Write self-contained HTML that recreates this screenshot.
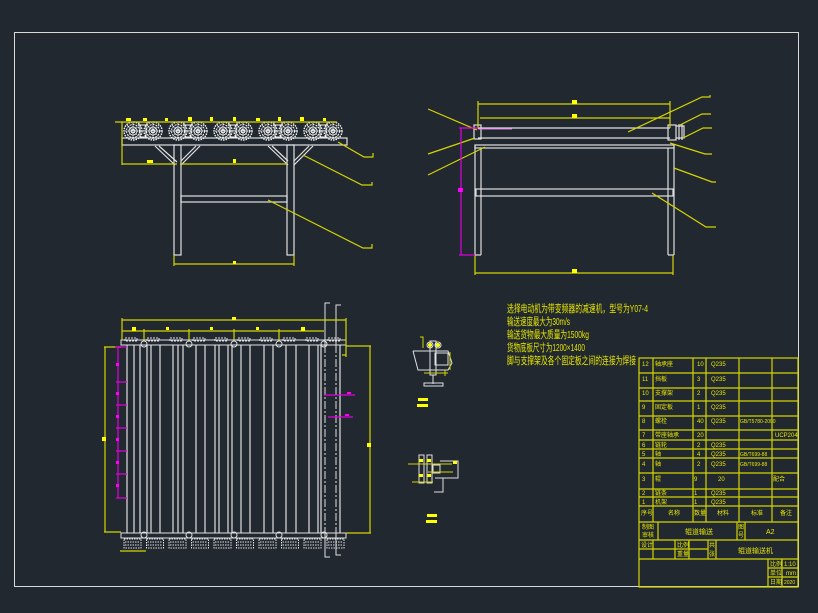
<!DOCTYPE html>
<html><head><meta charset="utf-8"><style>
html,body{margin:0;padding:0;background:#212830;}
svg{display:block}
text{font-family:"Liberation Sans","Noto Sans CJK SC",sans-serif;fill:#e6e600}
</style></head><body>
<svg width="818" height="613" viewBox="0 0 818 613" xmlns="http://www.w3.org/2000/svg">
<rect width="818" height="613" fill="#212830"/>
<rect x="14.5" y="32.5" width="784" height="554" fill="none" stroke="#d8d8d8" stroke-width="1"/>

<!-- ===== Front view (top-left) ===== -->
<g stroke="#e0e0e0" fill="none" stroke-width="1.2">
 <rect x="122" y="138" width="225" height="7"/>
 <rect x="174" y="145" width="7" height="110"/>
 <rect x="287" y="145" width="7" height="110"/>
 <rect x="181" y="196" width="106" height="6"/>
 <line x1="155" y1="146" x2="175" y2="165"/><line x1="159" y1="146" x2="177" y2="162"/>
 <line x1="200" y1="146" x2="181" y2="165"/><line x1="196" y1="146" x2="181" y2="161"/>
 <line x1="268" y1="146" x2="288" y2="165"/><line x1="272" y1="146" x2="288" y2="161"/>
 <line x1="313" y1="146" x2="294" y2="165"/><line x1="309" y1="146" x2="294" y2="161"/>
</g>
<g stroke="#f4f4f4" fill="none" stroke-width="1">
 <g id="rp">
  <circle cx="133" cy="131" r="9" stroke-dasharray="1.5 1" stroke-width="1.4"/><circle cx="133" cy="131" r="6.5" stroke-dasharray="2 1"/><circle cx="133" cy="131" r="4"/><circle cx="133" cy="131" r="1.5"/>
  <path d="M125 131h16M133 123v16M127 125l12 12M139 125l-12 12" stroke-dasharray="1 1.5"/>
  <circle cx="153" cy="131" r="9" stroke-dasharray="1.5 1" stroke-width="1.4"/><circle cx="153" cy="131" r="6.5" stroke-dasharray="2 1"/><circle cx="153" cy="131" r="4"/><circle cx="153" cy="131" r="1.5"/>
  <path d="M145 131h16M153 123v16M147 125l12 12M159 125l-12 12" stroke-dasharray="1 1.5"/>
  <rect x="140" y="125" width="6" height="12"/>
  <rect x="139" y="122" width="8" height="3"/>
 </g>
 <use href="#rp" x="45"/><use href="#rp" x="90"/><use href="#rp" x="135"/><use href="#rp" x="180"/>
</g>
<g stroke="#d4d400" fill="none" stroke-width="1.2">
 <line x1="115" y1="122" x2="337" y2="122"/>
 <line x1="122" y1="122" x2="122" y2="165"/>
 <line x1="122" y1="164" x2="177" y2="164"/>
 <line x1="180" y1="164" x2="287" y2="164"/>
 <line x1="174" y1="255" x2="174" y2="266"/><line x1="294" y1="255" x2="294" y2="266"/>
 <line x1="174" y1="264" x2="294" y2="264"/>
 <polyline points="338,142 364,157 373,157 373,153"/>
 <polyline points="303,155 362,185 372,185 372,182"/>
 <polyline points="268,200 363,248 372,248 372,244"/>
</g>
<g fill="#ffff00">
 <rect x="126" y="118" width="5" height="3"/><rect x="143" y="118" width="4" height="3"/><rect x="165" y="118" width="3" height="3"/>
 <rect x="188" y="117" width="4" height="4"/><rect x="210" y="117" width="3" height="4"/><rect x="233" y="117" width="3" height="4"/>
 <rect x="256" y="118" width="4" height="3"/><rect x="278" y="117" width="3" height="4"/><rect x="300" y="117" width="4" height="4"/><rect x="323" y="118" width="3" height="3"/>
 <rect x="147" y="160" width="6" height="3"/><rect x="233" y="159" width="3" height="4"/><rect x="233" y="261" width="3" height="3"/>
</g>

<!-- ===== Side view (top-right) ===== -->
<g stroke="#e0e0e0" fill="none" stroke-width="1.2">
 <line x1="476" y1="128" x2="670" y2="128"/>
 <line x1="478" y1="138" x2="670" y2="138"/>
 <rect x="475" y="145" width="199" height="3"/>
 <line x1="475" y1="145" x2="475" y2="255"/><line x1="481" y1="148" x2="481" y2="255"/><line x1="475" y1="255" x2="481" y2="255"/>
 <line x1="668" y1="148" x2="668" y2="255"/><line x1="674" y1="145" x2="674" y2="255"/><line x1="668" y1="255" x2="674" y2="255"/>
 <rect x="476" y="189" width="197" height="7"/>
 <rect x="474" y="125" width="7" height="14"/>
 <rect x="668" y="125" width="8" height="15"/>
 <path d="M676 126 h8 v12 h-8 M679 124 v16 M682 124 v16"/>
</g>
<line x1="478" y1="129" x2="512" y2="129" stroke="#e070e0" stroke-width="1"/>
<g stroke="#d4d400" fill="none" stroke-width="1.2">
 <line x1="478" y1="104" x2="670" y2="104"/><line x1="478" y1="101" x2="478" y2="128"/><line x1="670" y1="101" x2="670" y2="128"/>
 <line x1="480" y1="118" x2="670" y2="118"/>
 <line x1="475" y1="255" x2="475" y2="275"/><line x1="673" y1="255" x2="673" y2="275"/>
 <line x1="475" y1="273" x2="673" y2="273"/>
 <line x1="428" y1="109" x2="477" y2="130"/>
 <line x1="428" y1="154" x2="475" y2="138"/>
 <line x1="428" y1="175" x2="485" y2="147"/>
 <polyline points="628,132 702,97 710,97 710,95"/>
 <polyline points="680,125 702,114 711,114"/>
 <polyline points="683,138 703,128 712,128"/>
 <polyline points="670,143 705,154 712,154"/>
 <polyline points="674,168 712,182 716,182"/>
 <polyline points="652,193 706,227 716,227"/>
</g>
<g stroke="#e000e0" fill="none" stroke-width="1.2">
 <line x1="461" y1="128" x2="461" y2="255"/><line x1="459" y1="128" x2="478" y2="128"/><line x1="459" y1="255" x2="475" y2="255"/>
</g>
<rect x="458" y="188" width="5" height="4" fill="#ff00ff"/>
<g fill="#ffff00"><rect x="572" y="100" width="5" height="4"/><rect x="572" y="114" width="5" height="4"/><rect x="572" y="269" width="5" height="4"/></g>

<!-- ===== Plan view ===== -->
<g stroke="#e0e0e0" fill="none" stroke-width="1">
 <rect x="121" y="340" width="225" height="5"/>
 <rect x="121" y="533" width="225" height="5"/>
 <g stroke-width="1.2">
  <line x1="127" y1="345" x2="127" y2="533"/><line x1="134" y1="345" x2="134" y2="533"/><line x1="140" y1="345" x2="140" y2="533"/>
  <line x1="147" y1="345" x2="147" y2="533"/><line x1="151" y1="345" x2="151" y2="533"/><line x1="160" y1="345" x2="160" y2="533"/>
  <line x1="173" y1="345" x2="173" y2="533"/><line x1="178" y1="345" x2="178" y2="533"/><line x1="183" y1="345" x2="183" y2="533"/>
  <line x1="196" y1="345" x2="196" y2="533"/><line x1="205" y1="345" x2="205" y2="533"/><line x1="215" y1="345" x2="215" y2="533"/>
  <line x1="219" y1="345" x2="219" y2="533"/><line x1="228" y1="345" x2="228" y2="533"/><line x1="232" y1="345" x2="232" y2="533"/>
  <line x1="241" y1="345" x2="241" y2="533"/><line x1="250" y1="345" x2="250" y2="533"/><line x1="264" y1="345" x2="264" y2="533"/>
  <line x1="273" y1="345" x2="273" y2="533"/><line x1="286" y1="345" x2="286" y2="533"/><line x1="296" y1="345" x2="296" y2="533"/>
  <line x1="309" y1="345" x2="309" y2="533"/><line x1="318" y1="345" x2="318" y2="533"/><line x1="321" y1="345" x2="321" y2="533"/>
  <line x1="340" y1="345" x2="340" y2="533"/>
 </g>
 <line x1="325" y1="345" x2="325" y2="533" stroke-dasharray="8 2 2 2"/>
 <line x1="336" y1="345" x2="336" y2="533" stroke-dasharray="8 2 2 2"/>
 <polyline points="330,303 325,303 325,345"/><polyline points="341,305 336,305 336,345"/>
 <polyline points="325,533 325,557 330,557"/><polyline points="336,533 336,555 341,555"/>
 <g>
  <circle cx="144" cy="344" r="3"/><circle cx="189" cy="344" r="3"/><circle cx="234" cy="344" r="3"/><circle cx="279" cy="344" r="3"/><circle cx="324" cy="344" r="3"/>
  <circle cx="144" cy="535" r="3"/><circle cx="189" cy="535" r="3"/><circle cx="234" cy="535" r="3"/><circle cx="279" cy="535" r="3"/><circle cx="324" cy="535" r="3"/>
 </g>
 <g id="bb" stroke-dasharray="1.5 1">
  <rect x="124" y="539" width="17" height="9"/><path d="M125 542h15M125 545h15"/>
 </g>
 <use href="#bb" x="22.5"/><use href="#bb" x="45"/><use href="#bb" x="67.5"/><use href="#bb" x="90"/>
 <use href="#bb" x="112.5"/><use href="#bb" x="135"/><use href="#bb" x="157.5"/><use href="#bb" x="180"/><use href="#bb" x="203"/>
 <g stroke-dasharray="2 1">
  <rect x="125" y="338" width="12" height="3"/><rect x="147" y="338" width="12" height="3"/><rect x="170" y="338" width="12" height="3"/><rect x="193" y="338" width="12" height="3"/>
  <rect x="215" y="338" width="12" height="3"/><rect x="238" y="338" width="12" height="3"/><rect x="260" y="338" width="12" height="3"/><rect x="283" y="338" width="12" height="3"/><rect x="306" y="338" width="12" height="3"/><rect x="328" y="338" width="12" height="3"/>
 </g>
</g>
<g stroke="#d4d400" fill="none" stroke-width="1.2">
 <line x1="122" y1="320" x2="346" y2="320"/><line x1="122" y1="318" x2="122" y2="340"/><line x1="346" y1="318" x2="346" y2="357"/>
 <line x1="122" y1="331" x2="324" y2="331"/><line x1="144" y1="329" x2="144" y2="340"/><line x1="189" y1="329" x2="189" y2="340"/><line x1="234" y1="329" x2="234" y2="340"/><line x1="279" y1="329" x2="279" y2="340"/>
 <line x1="104" y1="347" x2="121" y2="347"/><line x1="104" y1="532" x2="121" y2="532"/><line x1="105" y1="347" x2="105" y2="532"/>
 <line x1="346" y1="346" x2="371" y2="346"/><line x1="346" y1="533" x2="371" y2="533"/><line x1="370" y1="346" x2="370" y2="533"/>
 <line x1="120" y1="551" x2="146" y2="551"/>
 <line x1="342" y1="355" x2="346" y2="355"/>
</g>
<g fill="#ffff00">
 <rect x="232" y="317" width="4" height="3"/><rect x="132" y="327" width="4" height="4"/><rect x="166" y="327" width="3" height="3"/><rect x="210" y="327" width="3" height="3"/><rect x="256" y="327" width="3" height="3"/><rect x="301" y="327" width="4" height="4"/>
 <rect x="102" y="437" width="4" height="4"/><rect x="367" y="443" width="4" height="4"/>
</g>
<g stroke="#e000e0" fill="none" stroke-width="1.2">
 <line x1="118" y1="347" x2="118" y2="498"/>
 <line x1="115" y1="347" x2="127" y2="347"/><line x1="116" y1="382" x2="127" y2="382"/><line x1="116" y1="405" x2="127" y2="405"/>
 <line x1="116" y1="428" x2="127" y2="428"/><line x1="116" y1="451" x2="127" y2="451"/><line x1="116" y1="474" x2="127" y2="474"/><line x1="116" y1="498" x2="127" y2="498"/>
 <line x1="324" y1="395" x2="355" y2="395"/><line x1="328" y1="417" x2="353" y2="417"/>
</g>
<g fill="#ff00ff">
 <rect x="116" y="363" width="3" height="3"/><rect x="116" y="392" width="3" height="3"/><rect x="116" y="415" width="3" height="3"/><rect x="116" y="438" width="3" height="3"/><rect x="116" y="461" width="3" height="3"/><rect x="116" y="484" width="3" height="3"/>
 <rect x="347" y="392" width="4" height="2"/><rect x="345" y="414" width="4" height="2"/>
</g>

<!-- ===== Detail views ===== -->
<g stroke="#e0e0e0" fill="none" stroke-width="1">
 <polyline points="413,351 448,351 452,363 448,370 418,370 413,351"/>
 <rect x="430" y="341" width="6" height="34"/>
 <line x1="433" y1="375" x2="433" y2="384"/><rect x="424" y="383" width="19" height="3"/>
 <circle cx="430" cy="345" r="3"/><circle cx="438" cy="345" r="3"/>
 <rect x="435" y="353" width="13" height="12"/>
 <polyline points="440,461 458,461 458,478 440,478"/>
 <rect x="419" y="455" width="5" height="28"/><rect x="427" y="455" width="5" height="28"/>
 <polyline points="435,478 443,478 443,492 434,492"/>
 <rect x="433" y="465" width="7" height="8"/>
</g>
<g stroke="#d4d400" fill="none" stroke-width="1">
 <polyline points="420,337 423,337 423,348"/><line x1="450" y1="352" x2="450" y2="370"/><line x1="424" y1="373" x2="448" y2="373"/><line x1="445" y1="370" x2="445" y2="376"/>
 <line x1="408" y1="464" x2="452" y2="464"/><line x1="412" y1="482" x2="433" y2="482"/><line x1="428" y1="472" x2="453" y2="472"/>
</g>
<g fill="#ffff00">
 <rect x="418" y="398" width="10" height="3"/><rect x="417" y="404" width="11" height="3"/>
 <rect x="427" y="514" width="10" height="3"/><rect x="426" y="520" width="11" height="3"/>
 <circle cx="430" cy="345" r="2"/><circle cx="438" cy="345" r="2"/>
 <rect x="419" y="459" width="4" height="3"/><rect x="427" y="459" width="4" height="3"/><rect x="419" y="474" width="4" height="3"/><rect x="427" y="474" width="4" height="3"/>
 <rect x="453" y="461" width="4" height="3"/>
</g>

<!-- ===== Notes ===== -->
<g font-size="10.5">
 <text x="507" y="312" textLength="141" lengthAdjust="spacingAndGlyphs">选择电动机为带变频器的减速机，型号为Y07-4</text>
 <text x="507" y="325" textLength="63" lengthAdjust="spacingAndGlyphs">输送速度最大为30m/s</text>
 <text x="507" y="338" textLength="82" lengthAdjust="spacingAndGlyphs">输送货物最大质量为1500kg</text>
 <text x="507" y="351" textLength="78" lengthAdjust="spacingAndGlyphs">货物底板尺寸为1200×1400</text>
 <text x="507" y="364" textLength="129" lengthAdjust="spacingAndGlyphs">脚与支撑架及各个固定板之间的连接为焊接</text>
</g>

<!-- ===== Title block ===== -->
<g stroke="#d4d400" fill="none" stroke-width="1.2">
 <rect x="639" y="358" width="159" height="229"/>
 <line x1="639" y1="373" x2="798" y2="373"/><line x1="639" y1="388" x2="798" y2="388"/><line x1="639" y1="401" x2="798" y2="401"/>
 <line x1="639" y1="416" x2="798" y2="416"/><line x1="639" y1="430" x2="798" y2="430"/><line x1="639" y1="440" x2="798" y2="440"/>
 <line x1="639" y1="449" x2="798" y2="449"/><line x1="639" y1="458" x2="798" y2="458"/><line x1="639" y1="473" x2="798" y2="473"/>
 <line x1="639" y1="489" x2="798" y2="489"/><line x1="639" y1="497" x2="798" y2="497"/><line x1="639" y1="506" x2="798" y2="506"/>
 <line x1="639" y1="522" x2="798" y2="522"/><line x1="639" y1="540" x2="798" y2="540"/><line x1="639" y1="559" x2="798" y2="559"/>
 <line x1="653" y1="358" x2="653" y2="522"/><line x1="693" y1="358" x2="693" y2="522"/><line x1="706" y1="358" x2="706" y2="522"/>
 <line x1="739" y1="358" x2="739" y2="522"/><line x1="772" y1="358" x2="772" y2="522"/>
 <line x1="658" y1="522" x2="658" y2="540"/><line x1="737" y1="522" x2="737" y2="540"/><line x1="745" y1="522" x2="745" y2="540"/>
 <line x1="653" y1="540" x2="653" y2="559"/><line x1="675" y1="540" x2="675" y2="559"/><line x1="689" y1="540" x2="689" y2="559"/>
 <line x1="708" y1="540" x2="708" y2="559"/><line x1="716" y1="540" x2="716" y2="559"/><line x1="639" y1="549" x2="708" y2="549"/>
 <line x1="768" y1="559" x2="768" y2="587"/><line x1="782" y1="559" x2="782" y2="587"/>
 <line x1="768" y1="568" x2="798" y2="568"/><line x1="768" y1="577" x2="798" y2="577"/>
</g>
<g font-size="6">
 <text x="642" y="366">12</text><text x="655" y="366">轴承座</text><text x="697" y="366">10</text><text x="711" y="366">Q235</text>
 <text x="642" y="381">11</text><text x="655" y="381">挡板</text><text x="697" y="381">3</text><text x="711" y="381">Q235</text>
 <text x="642" y="395">10</text><text x="655" y="395">支撑架</text><text x="697" y="395">2</text><text x="711" y="395">Q235</text>
 <text x="642" y="409">9</text><text x="655" y="409">固定板</text><text x="697" y="409">1</text><text x="711" y="409">Q235</text>
 <text x="642" y="423">8</text><text x="655" y="423">螺栓</text><text x="697" y="423">40</text><text x="711" y="423">Q235</text><text x="740" y="423" font-size="5">GB/T5780-2000</text>
 <text x="642" y="437">7</text><text x="655" y="437">带座轴承</text><text x="697" y="437">20</text><text x="775" y="437">UCP204</text>
 <text x="642" y="447">6</text><text x="655" y="447">链轮</text><text x="697" y="447">2</text><text x="711" y="447">Q235</text>
 <text x="642" y="456">5</text><text x="655" y="456">轴</text><text x="697" y="456">4</text><text x="711" y="456">Q235</text><text x="740" y="456" font-size="5">GB/T699-88</text>
 <text x="642" y="466">4</text><text x="655" y="466">轴</text><text x="697" y="466">2</text><text x="711" y="466">Q235</text><text x="740" y="466" font-size="5">GB/T699-88</text>
 <text x="642" y="481">3</text><text x="655" y="481">辊</text><text x="694" y="481">9</text><text x="718" y="481">20</text><text x="773" y="481">配合</text>
 <text x="642" y="495">2</text><text x="655" y="495">链条</text><text x="694" y="495">1</text><text x="711" y="495">Q235</text>
 <text x="642" y="504">1</text><text x="655" y="504">机架</text><text x="694" y="504">1</text><text x="711" y="504">Q235</text>
 <text x="641" y="515">序号</text><text x="668" y="515">名称</text><text x="694" y="515">数量</text><text x="717" y="515">材料</text><text x="751" y="515">标准</text><text x="780" y="515">备注</text>
 <text x="642" y="529">制图</text><text x="642" y="537">审核</text><text x="685" y="534" font-size="7">辊道输送</text>
 <text x="738" y="529">图</text><text x="738" y="537">号</text><text x="766" y="534" font-size="7">A2</text>
 <text x="641" y="547">设计</text><text x="677" y="547">比例</text><text x="677" y="556">重量</text>
 <text x="709" y="547">共</text><text x="709" y="556">张</text><text x="738" y="553" font-size="7">辊道输送机</text>
 <text x="770" y="566">比例</text><text x="784" y="566">1:10</text>
 <text x="770" y="575">单位</text><text x="786" y="575">mm</text>
 <text x="770" y="584">日期</text><text x="784" y="584" font-size="5">2020</text>
</g>
</svg>
</body></html>
